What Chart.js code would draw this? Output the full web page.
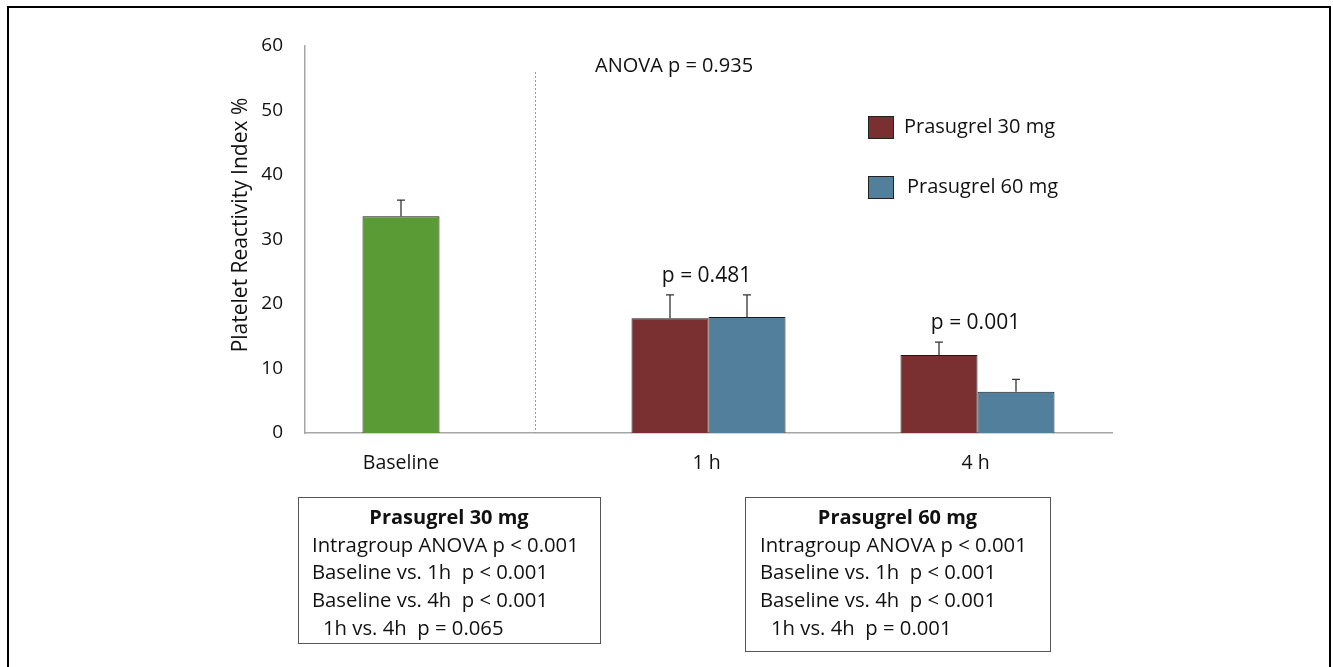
<!DOCTYPE html>
<html>
<head>
<meta charset="utf-8">
<script src="https://cdn.jsdelivr.net/npm/chart.js@4.4.1/dist/chart.umd.min.js"></script>
<style>
  html, body { margin: 0; padding: 0; background: #fff; }
  #wrap { width: 1333px; height: 667px; position: relative; }
</style>
</head>
<body>
<div id="wrap"><canvas id="prasugrelChart"></canvas></div>
<script>
// --- Data ---
const timepoints = ['Baseline', '1 h', '4 h'];
const dose30 = [33.6, 17.8, 12.1];      // baseline bar sits in the first slot
const dose30Err = [2.5, 3.6, 2.0];
const dose60 = [null, 18.0, 6.4];
const dose60Err = [null, 3.4, 1.9];
const seriesNames = ['Prasugrel 30 mg', 'Prasugrel 60 mg'];
const pairP = ['', 'p = 0.481', 'p = 0.001'];
const anovaText = 'ANOVA p = 0.935';
const yTicks = [0, 10, 20, 30, 40, 50, 60];

const box30 = ['Prasugrel 30 mg', 'Intragroup ANOVA p < 0.001', 'Baseline vs. 1h  p < 0.001', 'Baseline vs. 4h  p < 0.001', '1h vs. 4h  p = 0.065'];
const box60 = ['Prasugrel 60 mg', 'Intragroup ANOVA p < 0.001', 'Baseline vs. 1h  p < 0.001', 'Baseline vs. 4h  p < 0.001', '1h vs. 4h  p = 0.001'];

const GREEN = '#5b9b36';
const RED = '#7a3030';
const BLUE = '#527f9b';
const FONT = '"Open Sans", Lato, sans-serif';

// --- Drawing helpers (plugin) ---
const extras = {
    id: 'extras',
    afterDatasetsDraw(chart) {
        const ctx = chart.ctx;
        const y = chart.scales.y;
        const area = chart.chartArea;
        const errs = [dose30Err, dose60Err];

        ctx.save();
        // error bars (upper only)
        ctx.strokeStyle = '#333';
        ctx.lineWidth = 1.3;
        errs.forEach((errArr, di) => {
            const meta = chart.getDatasetMeta(di);
            meta.data.forEach((bar, i) => {
                const v = chart.data.datasets[di].data[i];
                if (v == null || errArr[i] == null) return;
                const top = y.getPixelForValue(v + errArr[i]);
                ctx.beginPath();
                ctx.moveTo(bar.x, bar.y);
                ctx.lineTo(bar.x, top);
                ctx.moveTo(bar.x - 4, top);
                ctx.lineTo(bar.x + 4, top);
                ctx.stroke();
            });
        });

        // dotted separator between baseline and follow-up
        const g = chart.getDatasetMeta(0).data[0];
        const r = chart.getDatasetMeta(0).data[1];
        const sepX = Math.round(((g.x + g.width / 2) + (r.x - r.width / 2)) / 2) + 0.5;
        ctx.strokeStyle = '#999';
        ctx.lineWidth = 1;
        ctx.setLineDash([2, 2]);
        ctx.beginPath();
        ctx.moveTo(sepX, 72);
        ctx.lineTo(sepX, area.bottom);
        ctx.stroke();
        ctx.setLineDash([]);

        // x labels: Baseline under its bar, others under the category
        ctx.fillStyle = '#111';
        ctx.font = '19.5px ' + FONT;
        ctx.textAlign = 'center';
        ctx.textBaseline = 'middle';
        timepoints.forEach((lab, i) => {
            const x = i === 0 ? g.x : chart.scales.x.getPixelForValue(i) - 2;
            ctx.fillText(lab, x, area.bottom + 30);
        });

        // p values over the pairs
        ctx.font = '21px ' + FONT;
        timepoints.forEach((lab, i) => {
            if (!pairP[i]) return;
            const tops = [dose30[i] + dose30Err[i], dose60[i] + dose60Err[i]];
            const py = y.getPixelForValue(Math.max(...tops)) - 19;
            ctx.fillText(pairP[i], chart.scales.x.getPixelForValue(i) - 2, py);
        });

        ctx.textAlign = 'left';
        ctx.font = '20px ' + FONT;
        ctx.fillText(anovaText, 595, 66);

        // legend
        const legendColors = [RED, BLUE];
        const legendY = [127, 187];
        const legendTextX = [904, 907];
        ctx.font = '20px ' + FONT;
        seriesNames.forEach((name, i) => {
            ctx.fillStyle = legendColors[i];
            ctx.fillRect(868, legendY[i] - 11, 25, 22);
            ctx.strokeStyle = '#222';
            ctx.strokeRect(868.5, legendY[i] - 10.5, 25, 22);
            ctx.fillStyle = '#111';
            ctx.fillText(name, legendTextX[i], legendY[i]);
        });

        // y axis title
        ctx.save();
        ctx.translate(241, 225);
        ctx.rotate(-Math.PI / 2);
        ctx.textAlign = 'center';
        ctx.font = '21px ' + FONT;
        ctx.fillText('Platelet Reactivity Index %', 0, 0);
        ctx.restore();

        // stats boxes
        function drawBox(lines, x0, y0, w, h, textX) {
            ctx.strokeStyle = '#555';
            ctx.lineWidth = 1;
            ctx.strokeRect(x0 + 0.5, y0 + 0.5, w, h);
            ctx.fillStyle = '#111';
            ctx.textAlign = 'center';
            ctx.font = 'bold 20px ' + FONT;
            ctx.fillText(lines[0], x0 + w / 2, y0 + 21);
            ctx.textAlign = 'left';
            ctx.font = '20.3px ' + FONT;
            lines.slice(1).forEach((t, k) => {
                const indent = k === 3 ? 11 : 0;
                ctx.fillText(t, textX + indent, y0 + 49 + k * 27.7);
            });
        }
        drawBox(box30, 298, 497, 302, 146, 312);
        drawBox(box60, 745, 497, 305, 154, 760);

        // outer frame
        ctx.strokeStyle = '#000';
        ctx.lineWidth = 2;
        ctx.strokeRect(8, 7, 1322, 700);
        ctx.restore();
    }
};

const ctx = document.getElementById('prasugrelChart').getContext('2d');
new Chart(ctx, {
    type: 'bar',
    data: {
        labels: timepoints,
        datasets: [{
            label: seriesNames[0],
            data: dose30,
            backgroundColor: [GREEN, RED, RED],
            borderColor: '#1a1a1a',
            borderWidth: 1
        }, {
            label: seriesNames[1],
            data: dose60,
            backgroundColor: BLUE,
            borderColor: '#1a1a1a',
            borderWidth: 1
        }]
    },
    options: {
        responsive: true,
        maintainAspectRatio: false,
        animation: false,
        categoryPercentage: 0.5725,
        barPercentage: 1.0,
        layout: { padding: { left: 0, right: 221, top: 46, bottom: 0 } },
        plugins: {
            legend: { display: false },
            tooltip: { enabled: false }
        },
        scales: {
            x: {
                grid: { display: false, drawTicks: false },
                border: { color: '#a6a6a6', width: 1.5 },
                ticks: { display: false },
                afterFit: s => { s.height = 234; }
            },
            y: {
                min: 0,
                max: 60,
                afterBuildTicks: s => { s.ticks = yTicks.map(v => ({ value: v })); },
                grid: { display: false, drawTicks: false },
                border: { color: '#a6a6a6', width: 1.5 },
                ticks: { color: '#111', font: { family: FONT, size: 19 }, padding: 22 },
                afterFit: s => { s.width = 305; }
            }
        }
    },
    plugins: [extras]
});
</script>
</body>
</html>
